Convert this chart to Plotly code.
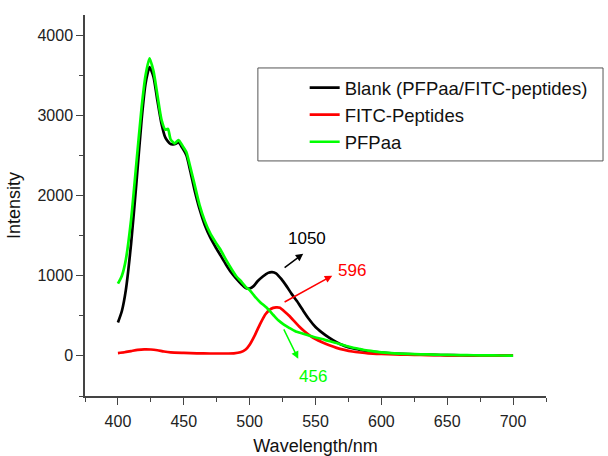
import plotly.graph_objects as go

# ---- data ----
wl_blank = [400, 403, 406, 410, 414, 418, 421, 424, 427, 430, 433, 436, 440, 443, 446, 449, 452, 455, 458,
            462, 466, 470, 474, 478, 482, 486, 490, 494, 497, 500, 503, 506, 510, 514, 517, 520, 524, 528,
            532, 536, 540, 545, 550, 555, 560, 566, 572, 578, 584, 590, 600, 610, 620, 630, 640, 650, 660,
            670, 680, 690, 700]
blank = [416, 560, 820, 1400, 2150, 2950, 3400, 3600, 3480, 3180, 2900, 2720, 2640, 2640, 2660, 2590, 2500,
         2300, 2080, 1830, 1630, 1480, 1360, 1250, 1140, 1040, 960, 890, 845, 840, 870, 930, 990, 1035, 1045,
         1030, 960, 870, 770, 680, 580, 460, 360, 290, 230, 170, 125, 95, 75, 58, 42, 30, 22, 17, 13, 10, 8,
         6, 5, 4, 3]

wl_fitc = [400, 405, 410, 415, 420, 425, 430, 435, 440, 450, 460, 470, 480, 488, 493, 497, 500, 504, 508, 512,
           516, 520, 523, 526, 530, 534, 538, 542, 546, 550, 555, 560, 566, 572, 578, 584, 590, 600, 610, 620,
           630, 640, 650, 660, 670, 680, 690, 700]
fitc = [35, 45, 60, 75, 82, 80, 70, 55, 45, 38, 32, 30, 30, 32, 45, 80, 140, 260, 400, 520, 585, 605, 600,
        560, 500, 430, 360, 300, 250, 210, 170, 135, 100, 75, 55, 42, 32, 24, 18, 14, 11, 9, 7, 6, 5, 4, 3, 3]

wl_pfpaa = [400, 403, 406, 410, 414, 418, 421, 424, 427, 430, 433, 436, 438, 440, 443, 446, 449, 452, 455, 458,
            462, 466, 470, 474, 478, 482, 486, 490, 494, 497, 500, 504, 508, 513, 518, 522, 526, 530, 535, 540,
            545, 550, 555, 560, 566, 572, 578, 584, 590, 600, 610, 620, 630, 640, 650, 660, 670, 680, 690, 700]
pfpaa = [900, 1000, 1200, 1700, 2400, 3100, 3500, 3710, 3550, 3250, 2950, 2820, 2830, 2700, 2650, 2690, 2620,
         2540, 2350, 2150, 1880, 1680, 1530, 1420, 1320, 1200, 1090, 990, 920, 860, 820, 740, 670, 600, 510,
         440, 390, 350, 305, 280, 255, 230, 210, 185, 160, 130, 105, 85, 65, 45, 32, 25, 20, 16, 12, 10, 8, 6,
         5, 4]

series_names = ["Blank (PFPaa/FITC-peptides)", "FITC-Peptides", "PFPaa"]
series_colors = ["#000000", "#ff0000", "#00ff00"]

# peak labels: text, colour, text position (wl, I), arrow tail (wl, I), arrow head (wl, I)
peak_labels = [
    ("1050", "#000000", (543.7, 1462), (525.4, 1087), (540.7, 1275)),
    ("596", "#ff0000", (578.0, 1062), (525.4, 662), (562.7, 1000)),
    ("456", "#00ff00", (548.3, -260), (525.4, 350), (536.9, -37)),
]

x_ticks = [400, 450, 500, 550, 600, 650, 700]
y_ticks = [0, 1000, 2000, 3000, 4000]

FONT = "Arial, Liberation Sans, sans-serif"

fig = go.Figure()
for wl, vals, name, col in zip([wl_blank, wl_fitc, wl_pfpaa], [blank, fitc, pfpaa], series_names, series_colors):
    fig.add_trace(go.Scatter(x=wl, y=vals, mode="lines", name=name,
                             line=dict(color=col, width=2.7, shape="spline", smoothing=0.6)))

for txt, col, tpos, tail, head in peak_labels:
    fig.add_annotation(x=head[0], y=head[1], ax=tail[0], ay=tail[1], xref="x", yref="y",
                       axref="x", ayref="y", text="", showarrow=True, arrowhead=2, arrowsize=1,
                       arrowwidth=1.5, arrowcolor=col)
    fig.add_annotation(x=tpos[0], y=tpos[1], xref="x", yref="y", text=txt, showarrow=False,
                       font=dict(family=FONT, size=17, color=col))

# legend frame
fig.add_shape(type="rect", xref="paper", yref="paper", x0=0.375, x1=1.1237, y0=0.617, y1=0.861,
              line=dict(color="#555555", width=1), fillcolor="rgba(0,0,0,0)")

fig.update_layout(
    width=608, height=456,
    margin=dict(l=85, r=62, t=15, b=60, autoexpand=False),
    paper_bgcolor="white", plot_bgcolor="white",
    font=dict(family=FONT, size=16, color="#222222"),
    showlegend=True,
    legend=dict(x=0.4765, y=0.858, xanchor="left", yanchor="top", bgcolor="rgba(0,0,0,0)",
                borderwidth=0, font=dict(family=FONT, size=18.5, color="#111111"), tracegroupgap=0),
    xaxis=dict(range=[375, 725], tickvals=x_ticks, ticks="outside", ticklen=7, tickwidth=1.3,
               tickcolor="#444444", showline=True, linecolor="#444444", linewidth=1.5,
               showgrid=False, zeroline=False, ticklabelstandoff=3, automargin=False,
               minor=dict(ticks="outside", ticklen=4, tickwidth=1.3, tickcolor="#444444", dtick=25, tick0=375),
               title=dict(text="Wavelength/nm", font=dict(family=FONT, size=18, color="#111111"), standoff=19)),
    yaxis=dict(range=[-500, 4250], tickvals=y_ticks, ticks="outside", ticklen=7, tickwidth=1.3,
               tickcolor="#444444", showline=True, linecolor="#444444", linewidth=1.5,
               showgrid=False, zeroline=False, automargin=False,
               minor=dict(ticks="outside", ticklen=4, tickwidth=1.3, tickcolor="#444444", dtick=500, tick0=-500),
               title=dict(text="Intensity", font=dict(family=FONT, size=18, color="#111111"), standoff=12)),
)

fig.write_html("out.html")
